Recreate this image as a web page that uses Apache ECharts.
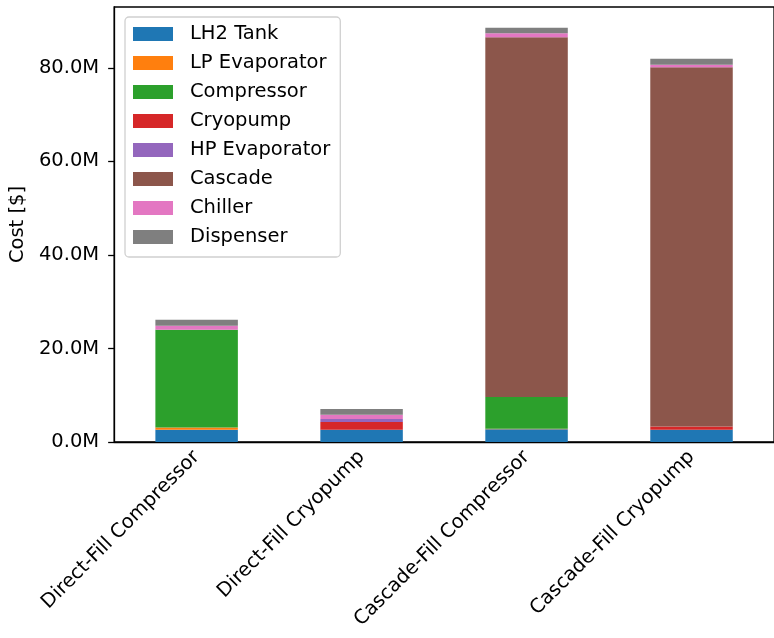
<!DOCTYPE html>
<html>
<head>
<meta charset="utf-8">
<script src="https://cdn.jsdelivr.net/npm/echarts@6/dist/echarts.min.js"></script>
<style>
  html, body { margin: 0; padding: 0; background: #fff; }
  #chart { width: 774px; height: 638px; }
</style>
</head>
<body>
<div id="chart"></div>
<script>
// Refuelling station configurations
const categories = ['Direct-Fill Compressor', 'Direct-Fill Cryopump', 'Cascade-Fill Compressor', 'Cascade-Fill Cryopump'];

// Component costs in dollars, one value per configuration
const lh2Tank      = [2.6e6, 2.6e6, 2.7e6, 2.6e6];
const lpEvaporator = [0.5e6, 0, 0.13e6, 0];
const compressor   = [20.9e6, 0, 6.8e6, 0];
const cryopump     = [0, 1.7e6, 0, 0.7e6];
const hpEvaporator = [0, 0.64e6, 0, 0];
const cascade      = [0, 0, 76.9e6, 76.8e6];
const chiller      = [0.86e6, 0.86e6, 0.86e6, 0.57e6];
const dispenser    = [1.28e6, 1.28e6, 1.2e6, 1.28e6];

const yTicks = [0, 20e6, 40e6, 60e6, 80e6];

const components = [
  ['LH2 Tank', lh2Tank, '#1f77b4'],
  ['LP Evaporator', lpEvaporator, '#ff7f0e'],
  ['Compressor', compressor, '#2ca02c'],
  ['Cryopump', cryopump, '#d62728'],
  ['HP Evaporator', hpEvaporator, '#9467bd'],
  ['Cascade', cascade, '#8c564b'],
  ['Chiller', chiller, '#e377c2'],
  ['Dispenser', dispenser, '#7f7f7f']
];

const FONT = 'DejaVu Sans';
const FS = 19.5;

const chart = echarts.init(document.getElementById('chart'), null, { renderer: 'canvas' });
chart.setOption({
  animation: false,
  backgroundColor: '#fff',
  textStyle: { fontFamily: FONT },
  grid: {
    left: 114, right: -12, top: 7, bottom: 196,
    show: true, borderColor: '#000', borderWidth: 1.3, backgroundColor: 'transparent'
  },
  legend: {
    orient: 'vertical',
    left: 125, top: 17,
    padding: [6, 10, 9, 8],
    itemWidth: 40, itemHeight: 14, itemGap: 7,
    icon: 'rect',
    backgroundColor: 'rgba(255,255,255,0.8)',
    borderColor: '#d0d0d0', borderWidth: 1.3, borderRadius: 4,
    textStyle: { fontFamily: FONT, fontSize: FS, color: '#000', lineHeight: 22, padding: [0, 0, 0, 12] },
    data: components.map(c => c[0])
  },
  xAxis: {
    type: 'category',
    data: categories,
    axisLine: { lineStyle: { color: '#000', width: 1.3 } },
    axisTick: { alignWithLabel: true, length: 6, lineStyle: { color: '#000', width: 1.3 } },
    axisLabel: { interval: 0, rotate: 45, margin: 12, fontFamily: FONT, fontSize: FS, color: '#000' }
  },
  yAxis: {
    type: 'value',
    min: 0, max: 93e6, interval: 20e6,
    name: 'Cost [$]',
    nameLocation: 'middle',
    nameGap: 86,
    nameTextStyle: { fontFamily: FONT, fontSize: FS, color: '#000' },
    splitLine: { show: false },
    axisLine: { show: true, lineStyle: { color: '#000', width: 1.3 } },
    axisTick: { show: true, length: 6, lineStyle: { color: '#000', width: 1.3 } },
    axisLabel: {
      margin: 15, fontFamily: FONT, fontSize: FS, color: '#000',
      showMaxLabel: false,
      formatter: v => yTicks.includes(v) ? (v / 1e6).toFixed(1) + 'M' : ''
    }
  },
  series: components.map(([name, values, color]) => ({
    name,
    type: 'bar',
    stack: 'cost',
    barWidth: '50%',
    itemStyle: { color },
    emphasis: { disabled: true },
    data: values
  }))
});
</script>
</body>
</html>
